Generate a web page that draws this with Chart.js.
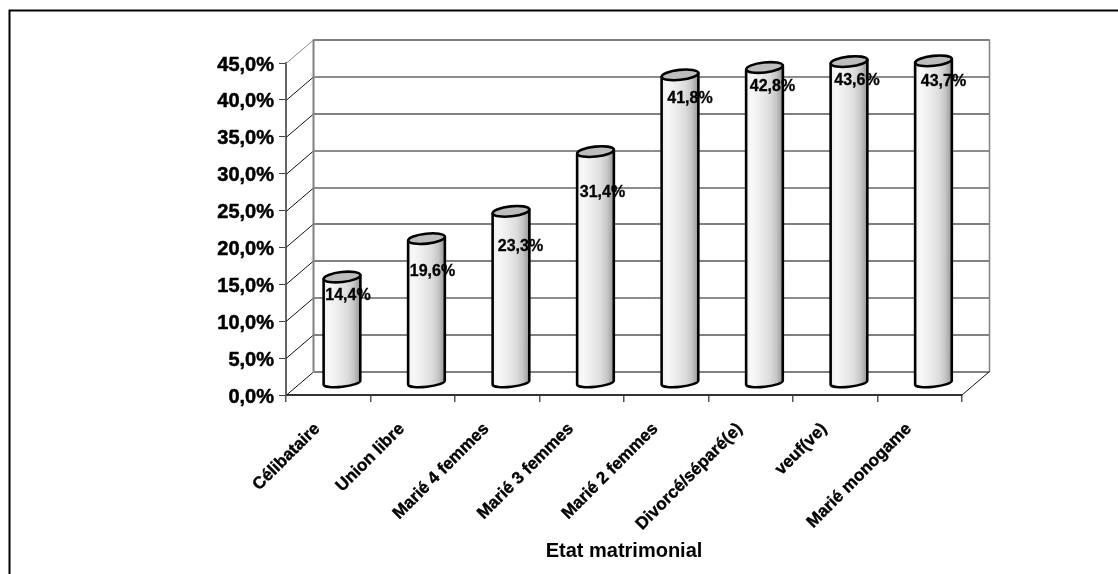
<!DOCTYPE html>
<html><head><meta charset="utf-8">
<style>html,body{margin:0;padding:0;background:#fff;overflow:hidden}#w{position:relative;width:1118px;height:574px}</style>
<script src="https://cdn.jsdelivr.net/npm/chart.js@4"></script>
</head><body><div id="w"><canvas id="c" width="1118" height="574"></canvas></div>
<script>
const categories = ["Célibataire","Union libre","Marié 4 femmes","Marié 3 femmes","Marié 2 femmes","Divorcé/séparé(e)","veuf(ve)","Marié monogame"];
const values = [14.4,19.6,23.3,31.4,41.8,42.8,43.6,43.7];
const valueLabels = ["14,4%","19,6%","23,3%","31,4%","41,8%","42,8%","43,6%","43,7%"];
const axisTitle = "Etat matrimonial";

const DX = 27.5, DY = -23.5;
const FONT = '"Liberation Sans", Arial, sans-serif';
const darkGrid = new Set([40,30,25,10]);
const labelNudge = [[6,19],[6,33],[9.5,35],[7,41],[10,23.5],[8,19],[8,19],[10,21]];

const wall3d = {
  id:'wall3d',
  beforeDatasetsDraw(chart){
    const {ctx,scales:{x,y}} = chart;
    const L=x.left,R=x.right,B=y.bottom,T=y.top;
    ctx.save();
    ctx.lineCap='butt';
    for(let v=0;v<=45;v+=5){
      const py=Math.round(y.getPixelForValue(v))+0.5;
      ctx.strokeStyle = v===45?'#8a8a8a':'#111';
      ctx.lineWidth = 1;
      ctx.beginPath();ctx.moveTo(L,py);ctx.lineTo(L+DX,py+DY);ctx.stroke();
      const dark = darkGrid.has(v);
      ctx.strokeStyle = dark?'#1a1a1a':'#808080';
      ctx.lineWidth = dark?1:2;
      ctx.beginPath();ctx.moveTo(L+DX,py+DY);ctx.lineTo(R+DX,py+DY);ctx.stroke();
    }
    ctx.strokeStyle='#808080';ctx.lineWidth=2;
    ctx.beginPath();ctx.moveTo(L+DX,T+DY);ctx.lineTo(L+DX,B+DY);ctx.stroke();
    ctx.lineWidth=1.5;
    ctx.beginPath();ctx.moveTo(R+DX,T+DY);ctx.lineTo(R+DX,B+DY);ctx.stroke();
    ctx.strokeStyle='#111';ctx.lineWidth=1;
    ctx.beginPath();ctx.moveTo(R,B);ctx.lineTo(R+DX,B+DY);ctx.stroke();
    ctx.restore();
  },
  beforeDatasetDraw(chart,args){
    const ctx=chart.ctx;
    const ox=DX/2, oy=DY/2;
    args.meta.data.forEach(el=>{
      const p=el.getProps(['x','y','base','width'],true);
      const cx=p.x+ox, top=p.y+oy, bot=p.base+oy, r=p.width/2;
      const ry=5, tilt=-0.11;
      const dy=Math.sin(tilt)*r;
      const g=ctx.createLinearGradient(cx-r,0,cx+r,0);
      g.addColorStop(0,'#f0f0f0');g.addColorStop(0.15,'#f8f8f8');g.addColorStop(0.4,'#ececec');
      g.addColorStop(0.65,'#dcdcdc');g.addColorStop(0.82,'#c6c6c6');g.addColorStop(1,'#969696');
      ctx.save();
      ctx.beginPath();
      ctx.moveTo(cx-r,top-dy);
      ctx.lineTo(cx-r,bot-dy);
      ctx.ellipse(cx,bot,r,ry-1,tilt,Math.PI,0,true);
      ctx.lineTo(cx+r,top+dy);
      ctx.closePath();
      ctx.fillStyle=g;ctx.fill();
      ctx.strokeStyle='#000';ctx.lineWidth=2.6;ctx.lineJoin='round';ctx.stroke();
      ctx.beginPath();
      ctx.ellipse(cx,top,r,ry,tilt,0,Math.PI*2);
      ctx.fillStyle='#bdbdbd';ctx.fill();ctx.stroke();
      ctx.restore();
    });
    return false;
  },
  afterDatasetsDraw(chart){
    const ctx=chart.ctx, meta=chart.getDatasetMeta(0);
    ctx.save();
    ctx.font='bold 16px '+FONT;ctx.fillStyle='#000';ctx.strokeStyle='#000';ctx.lineWidth=0.3;ctx.textAlign='center';ctx.textBaseline='middle';
    meta.data.forEach((el,i)=>{
      const tx=el.x+DX/2+labelNudge[i][0], ty=el.y+DY/2+labelNudge[i][1];
      ctx.fillText(valueLabels[i],tx,ty);
      ctx.strokeText(valueLabels[i],tx,ty);
    });
    ctx.restore();
  },
  afterDraw(chart){
    const ctx=chart.ctx;
    ctx.save();
    ctx.strokeStyle='#000';ctx.lineWidth=2;
    ctx.beginPath();ctx.moveTo(9.5,574);ctx.lineTo(9.5,10.5);ctx.lineTo(1118,10.5);ctx.stroke();
    ctx.restore();
  }
};

new Chart(document.getElementById('c'),{
  type:'bar',
  data:{labels:categories,datasets:[{data:values,backgroundColor:'#dcdcdc',borderColor:'#000',barPercentage:0.435,categoryPercentage:1}]},
  plugins:[wall3d],
  options:{
    responsive:false,animation:false,
    layout:{padding:{left:0,top:63,right:156,bottom:0}},
    plugins:{legend:{display:false},title:{display:false},tooltip:{enabled:false}},
    scales:{
      x:{
        afterFit(s){s.height=179;},
        grid:{drawOnChartArea:false,drawTicks:true,tickLength:7,color:'#555',lineWidth:1.5},
        border:{color:'#333',width:2},
        ticks:{autoSkip:false,minRotation:45,maxRotation:45,padding:17,labelOffset:-11,color:'#000',textStrokeColor:'#000',textStrokeWidth:0.4,font:{family:FONT,size:17,weight:'bold'}},
        title:{display:true,text:axisTitle,color:'#000',font:{family:FONT,size:20,weight:'bold'},padding:{top:0,bottom:11}}
      },
      y:{
        min:0,max:45,
        afterFit(s){s.width=286;},
        grid:{drawOnChartArea:false,tickLength:7,color:'#444',lineWidth:1},
        border:{color:'#666',width:2},
        ticks:{stepSize:5,padding:5,labelOffset:2,color:'#000',textStrokeColor:'#000',textStrokeWidth:0.5,font:{family:FONT,size:20,weight:'bold'},
          callback:v=>v.toFixed(1).replace('.',',')+'%'}
      }
    }
  }
});
</script></body></html>
